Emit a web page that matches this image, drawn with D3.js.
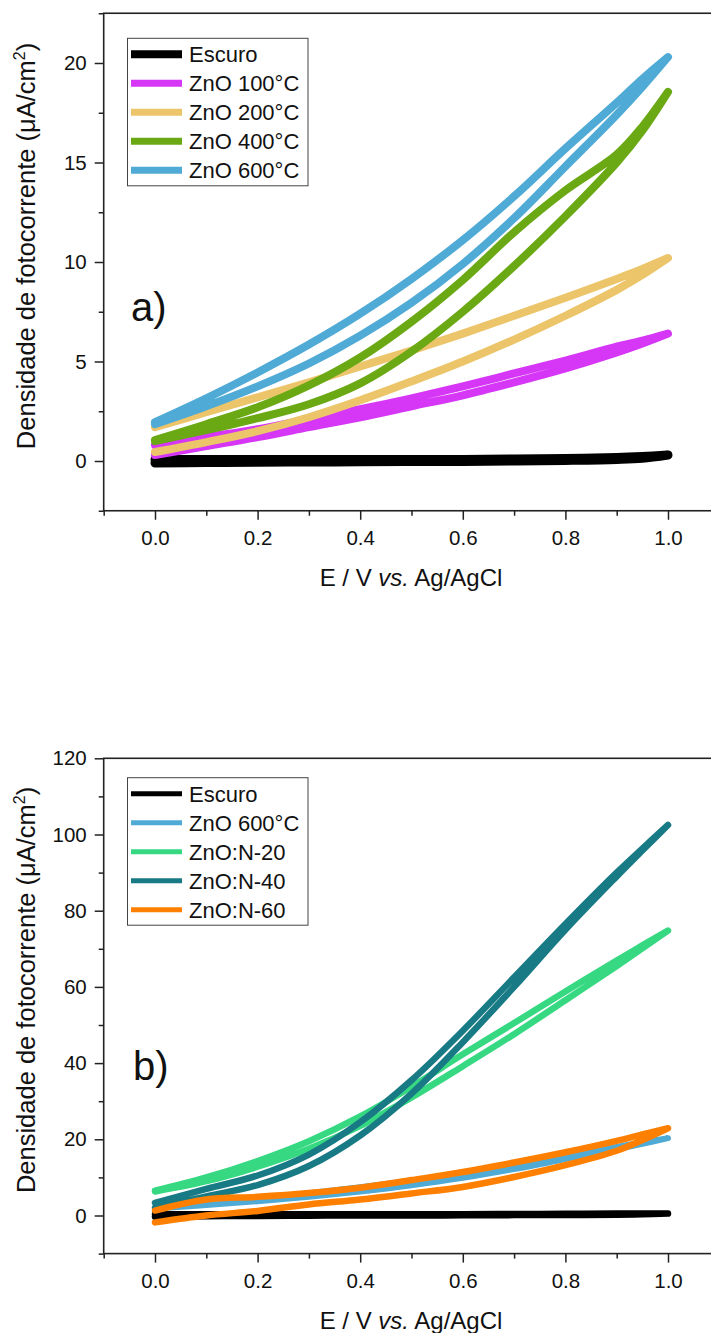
<!DOCTYPE html>
<html>
<head>
<meta charset="utf-8">
<script src="https://cdn.jsdelivr.net/npm/d3@7"></script>
<style>
  html, body { margin: 0; padding: 0; background: #fff; }
  svg { display: block; font-family: "Liberation Sans", Arial, sans-serif; }
</style>
</head>
<body>
<svg id="chart" width="711" height="1333"></svg>
<script>
// ---------- DATA ----------
// potential grid (V vs Ag/AgCl) shared by all scans
const potential = [0, 0.1, 0.2, 0.3, 0.4, 0.5, 0.6, 0.7, 0.8, 0.9, 0.95, 1.0];

// Panel a) - forward (lower) and reverse (upper) branches, µA/cm²
const escuroA_fwd = [-0.1, -0.08, -0.06, -0.05, -0.04, -0.03, -0.02, 0.0, 0.03, 0.08, 0.14, 0.3];
const escuroA_rev = [0.08, 0.08, 0.07, 0.07, 0.07, 0.07, 0.08, 0.1, 0.13, 0.18, 0.23, 0.3];
const zno100_fwd = [0.3, 0.75, 1.2, 1.7, 2.2, 2.75, 3.3, 3.95, 4.65, 5.45, 5.9, 6.4];
const zno100_rev = [0.8, 1.2, 1.6, 2.1, 2.6, 3.15, 3.75, 4.4, 5.05, 5.75, 6.05, 6.4];
const zno200_fwd = [0.45, 0.95, 1.5, 2.2, 3.05, 4.0, 5.0, 6.1, 7.3, 8.6, 9.35, 10.2];
const zno200_rev = [1.7, 2.45, 3.2, 3.95, 4.75, 5.55, 6.4, 7.3, 8.2, 9.15, 9.65, 10.2];
const zno400_fwd = [1.0, 1.55, 2.15, 2.85, 3.9, 5.5, 7.5, 9.8, 12.3, 15.0, 16.6, 18.55];
const zno400_rev = [1.05, 1.85, 2.7, 3.8, 5.2, 7.0, 9.1, 11.5, 13.6, 15.4, 16.8, 18.55];
const zno600_fwd = [1.85, 2.75, 3.75, 4.9, 6.3, 7.95, 9.9, 12.2, 14.8, 17.4, 18.8, 20.3];
const zno600_rev = [1.95, 3.15, 4.45, 5.85, 7.4, 9.15, 11.1, 13.3, 15.7, 18.0, 19.2, 20.3];

// Panel b)
const escuroB_fwd = [-0.3, -0.2, -0.1, -0.05, 0.0, 0.0, 0.05, 0.1, 0.15, 0.2, 0.3, 0.5];
const escuroB_rev = [0.3, 0.3, 0.3, 0.3, 0.3, 0.35, 0.35, 0.4, 0.45, 0.5, 0.5, 0.5];
const n20_fwd = [6.3, 9.0, 12.8, 17.5, 23.5, 31.0, 39.2, 47.6, 56.5, 65.5, 70.1, 74.8];
const n20_rev = [6.5, 10.0, 14.3, 19.5, 26.0, 33.8, 42.3, 50.5, 58.8, 66.9, 70.9, 74.8];
const n40_fwd = [2.0, 5.0, 8.0, 13.0, 21.0, 32.0, 45.5, 60.0, 75.0, 89.0, 95.8, 102.5];
const n40_rev = [3.3, 7.0, 10.5, 16.0, 24.5, 35.5, 48.5, 62.5, 76.5, 90.0, 96.3, 102.5];
const n60_fwd = [-1.8, 0.0, 1.2, 2.9, 4.2, 5.8, 7.5, 10.1, 13.2, 17.0, 19.8, 22.9];
const n60_rev = [1.3, 4.2, 4.9, 5.9, 7.3, 9.3, 11.4, 13.9, 16.6, 19.6, 21.3, 22.9];

// legend labels
const labelsA = ["Escuro", "ZnO 100°C", "ZnO 200°C", "ZnO 400°C", "ZnO 600°C"];
const labelsB = ["Escuro", "ZnO 600°C", "ZnO:N-20", "ZnO:N-40", "ZnO:N-60"];

// ticks
const xMajor = [0, 0.2, 0.4, 0.6, 0.8, 1.0];
const xMinor = [-0.1, 0.1, 0.3, 0.5, 0.7, 0.9, 1.1];
const yMajorA = [0, 5, 10, 15, 20];
const yMinorA = [-2.5, 2.5, 7.5, 12.5, 17.5, 22.5];
const yMajorB = [0, 20, 40, 60, 80, 100, 120];
const yMinorB = [-10, 10, 30, 50, 70, 90, 110];

// ---------- STYLE ----------
const colorsA = ["#000000", "#d636f5", "#ecc56a", "#6aa814", "#50aad6"];
const colorsB = ["#000000", "#50aad6", "#36d982", "#187a84", "#ff8000"];

const svg = d3.select("#chart");
const FONT = '"Liberation Sans", Arial, sans-serif';
const AX = "#222";

function loop(fwd, rev) {
  const pts = potential.map((e, i) => [e, fwd[i]]);
  for (let i = potential.length - 1; i >= 0; i--) pts.push([potential[i], rev[i]]);
  return pts;
}

function panel(cfg) {
  const x = d3.scaleLinear().domain([-0.1, 1.1]).range([103.7, 719.3]);
  const y = d3.scaleLinear().domain(cfg.yDomain).range(cfg.yRange);
  const g = svg.append("g");
  const [yb, yt] = cfg.yRange;

  // curves
  const line = d3.line().x(d => x(d[0])).y(d => y(d[1])).curve(d3.curveCatmullRom.alpha(0.5));
  cfg.series.forEach((s, i) => {
    g.append("path")
      .attr("d", line(loop(s[0], s[1])))
      .attr("fill", "none")
      .attr("stroke", cfg.colors[i])
      .attr("stroke-width", cfg.widths[i])
      .attr("stroke-linejoin", "round")
      .attr("stroke-linecap", "round");
  });

  // frame (right side falls outside the view)
  g.append("rect")
    .attr("x", x(-0.1)).attr("y", yt)
    .attr("width", x(1.1) - x(-0.1)).attr("height", yb - yt)
    .attr("fill", "none").attr("stroke", AX).attr("stroke-width", 1.6);

  // axes
  const styleAxis = sel => {
    sel.select(".domain").remove();
    sel.selectAll(".tick line").attr("stroke", AX).attr("stroke-width", 1.5);
    sel.selectAll(".tick text").attr("fill", "#111").attr("font-family", FONT).attr("font-size", 20.5);
  };
  g.append("g").attr("transform", `translate(0,${yb})`)
    .call(d3.axisBottom(x).tickValues(xMajor).tickSize(9).tickPadding(11).tickFormat(d3.format(".1f")))
    .call(styleAxis);
  g.append("g").attr("transform", `translate(0,${yb})`)
    .call(d3.axisBottom(x).tickValues(xMinor).tickSize(5).tickFormat(""))
    .call(styleAxis);
  g.append("g").attr("transform", `translate(${x(-0.1)},0)`)
    .call(d3.axisLeft(y).tickValues(cfg.yMajor).tickSize(9).tickPadding(8).tickFormat(d3.format("d")))
    .call(styleAxis);
  g.append("g").attr("transform", `translate(${x(-0.1)},0)`)
    .call(d3.axisLeft(y).tickValues(cfg.yMinor).tickSize(5).tickFormat(""))
    .call(styleAxis);

  // x title
  const xt = g.append("text")
    .attr("x", 411).attr("y", yb + 75)
    .attr("text-anchor", "middle").attr("font-family", FONT).attr("font-size", 24).attr("fill", "#111");
  xt.append("tspan").text("E / V ");
  xt.append("tspan").attr("font-style", "italic").text("vs.");
  xt.append("tspan").text(" Ag/AgCl");

  // y title
  const yc = (yb + yt) / 2 - 16;
  const ytl = g.append("text")
    .attr("transform", `translate(35,${yc}) rotate(-90)`)
    .attr("text-anchor", "middle").attr("font-family", FONT).attr("font-size", 25.5).attr("fill", "#111");
  ytl.append("tspan").text("Densidade de fotocorrente (\u03BCA/cm");
  ytl.append("tspan").attr("font-size", 16).attr("dy", -10).text("2");
  ytl.append("tspan").attr("dy", 10).text(")");

  // panel letter
  g.append("text")
    .attr("x", cfg.letterX).attr("y", cfg.letterY)
    .attr("font-family", FONT).attr("font-size", 40).attr("fill", "#111")
    .text(cfg.letter);

  // legend
  const lg = g.append("g");
  lg.append("rect")
    .attr("x", 127.5).attr("y", cfg.legTop)
    .attr("width", 180.5).attr("height", 147.5)
    .attr("fill", "#fff").attr("stroke", "#444").attr("stroke-width", 1);
  cfg.labels.forEach((lab, i) => {
    const cy = cfg.legTop + 16 + i * 29;
    lg.append("line")
      .attr("x1", 131).attr("x2", 182).attr("y1", cy).attr("y2", cy)
      .attr("stroke", cfg.colors[i]).attr("stroke-width", cfg.legW[i]);
    lg.append("text")
      .attr("x", 189).attr("y", cy + 8)
      .attr("font-family", FONT).attr("font-size", 22).attr("fill", "#111")
      .text(lab);
  });
}

panel({
  yDomain: [-2.5, 22.5], yRange: [510.75, 13.25],
  yMajor: yMajorA, yMinor: yMinorA,
  series: [[escuroA_fwd, escuroA_rev], [zno100_fwd, zno100_rev], [zno200_fwd, zno200_rev],
           [zno400_fwd, zno400_rev], [zno600_fwd, zno600_rev]],
  colors: colorsA, widths: [9, 8, 8, 8, 8], legW: [8, 7, 7, 7, 7],
  labels: labelsA, legTop: 38.3,
  letter: "a)", letterX: 131, letterY: 321
});

panel({
  yDomain: [-10, 120], yRange: [1253.6, 758.3],
  yMajor: yMajorB, yMinor: yMinorB,
  series: [[escuroB_fwd, escuroB_rev], [zno600_fwd, zno600_rev], [n20_fwd, n20_rev],
           [n40_fwd, n40_rev], [n60_fwd, n60_rev]],
  colors: colorsB, widths: [6.5, 6, 6.5, 6.5, 6.5], legW: [5, 5, 5, 5, 5],
  labels: labelsB, legTop: 777.7,
  letter: "b)", letterX: 133, letterY: 1080
});
</script>
</body>
</html>
